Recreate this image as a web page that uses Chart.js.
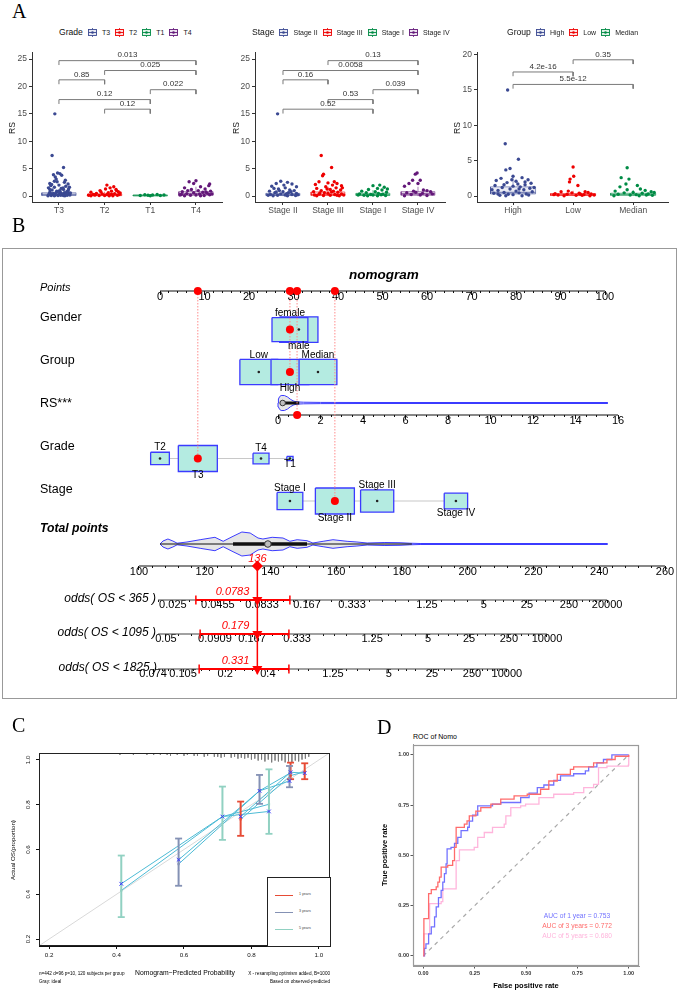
<!DOCTYPE html>
<html><head><meta charset="utf-8"><title>RS nomogram figure</title>
<script src="https://cdn.jsdelivr.net/npm/chart.js@4.4.1/dist/chart.umd.min.js"></script>
<style>
html,body{margin:0;padding:0;background:#fff;}
body{width:678px;height:992px;position:relative;overflow:hidden;font-family:'Liberation Sans',Arial,sans-serif;color:#000;}
canvas{position:absolute;}
.t{position:absolute;white-space:nowrap;line-height:1;}
.leg{position:absolute;display:flex;align-items:center;white-space:nowrap;line-height:1;color:#222;}
.leg .ttl{font-size:8.6px;color:#111;}
.leg .it{display:flex;align-items:center;margin-left:5px;font-size:7px;}
.leg svg{margin-right:5px;display:block;}
#nbox{position:absolute;left:2px;top:248px;width:673px;height:449px;border:1px solid #999;}
#calLeg{position:absolute;left:267px;top:877px;width:62px;height:68px;border:1px solid #222;background:#fff;}
</style></head><body>
<div id="nbox"></div>
<canvas id="a1" width="226" height="175" style="left:0;top:45px"></canvas>
<canvas id="a2" width="224" height="175" style="left:225px;top:45px"></canvas>
<canvas id="a3" width="222" height="175" style="left:450px;top:45px"></canvas>
<canvas id="nomo" width="678" height="452" style="left:0;top:248px"></canvas>
<canvas id="cal" width="340" height="247" style="left:0;top:745px"></canvas>
<div id="calLeg"></div>
<canvas id="roc" width="300" height="252" style="left:378px;top:740px"></canvas>
<script>
// ===================== DATA =====================
// ---- Panel A ----
const gradeCats = ['T3','T2','T1','T4'];
const stageCats = ['Stage II','Stage III','Stage I','Stage IV'];
const groupCats = ['High','Low','Median'];
const aaas = ['#3B4992','#EE0000','#008B45','#631879'];
const yTicks25 = [0,5,10,15,20,25];
const yTicks20 = [0,5,10,15,20];
// [lower whisker, Q1, median, Q3, upper whisker]
const gradeBox = [[0,0.1,0.3,0.6,1.3],[0,0.08,0.2,0.38,0.8],[0.02,0.05,0.1,0.2,0.35],[0,0.15,0.4,0.8,1.7]];
const stageBox = [[0,0.1,0.25,0.5,1.1],[0,0.12,0.3,0.75,1.7],[0,0.1,0.25,0.5,1.1],[0,0.15,0.4,0.8,1.7]];
const groupBox = [[0,0.3,0.5,1.3,2.8],[0,0.08,0.2,0.35,0.75],[0,0.1,0.22,0.4,0.85]];
// jittered observations: [jitter offset, RS]
const gradeT3 = [[-0.09,15],[-0.15,7.4],[0.1,5.2],[-0.03,4.2],[0.02,4.1],[-0.12,3.9],[-0.08,3.5],[0.06,3.8],[-0.2,2.3],[-0.1,2.7],[-0.04,2.6],[0.12,2.5],[0.2,2.2],[-0.18,1.9],[0,2.0],[0.15,1.8],[0.23,1.6],[-0.23,1.5],[-0.1,1.6],[0.05,1.4],[0.1,1.2],[-0.15,1.1],[0.2,1.0],[-0.05,0.9],[0.17,0.8],[-0.2,0.7],[0.03,0.7],[0.12,0.6],[-0.12,0.5],[0.22,0.4],[-0.22,0.35],[0,0.3],[0.08,0.25],[-0.08,0.2],[0.18,0.15],[-0.17,0.1],[0.13,0.05],[-0.02,0.1],[0.24,0.2],[-0.24,0.05],[0.06,0.45],[-0.14,0.3],[0.1,0.1],[-0.06,0.6],[0.2,0.7],[-0.2,1.2],[0.02,1.0],[0.16,0.3],[-0.1,0.05],[0.04,0.15],[-0.18,0.45],[0.25,0.55],[-0.02,0.85],[0.09,1.5],[-0.16,2.1],[0.14,2.9],[-0.06,3.1],[0.21,1.3]];
const gradeT2 = [[0.05,2.0],[0.2,1.7],[0.12,1.5],[0.02,1.3],[0.25,1.2],[-0.1,1.0],[0.15,0.9],[0.3,0.8],[-0.3,0.7],[0.08,0.6],[-0.18,0.5],[0.22,0.45],[-0.05,0.4],[0.32,0.3],[-0.25,0.3],[0.1,0.2],[-0.35,0.15],[0,0.1],[0.18,0.05],[-0.12,0.1],[0.28,0.15],[-0.3,0.05],[0.05,0.3],[-0.2,0.25],[0.15,0.35],[0.34,0.55],[-0.08,0.75],[0.26,1.0],[-0.22,0.2],[0.1,0.05]];
const gradeT1 = [[-0.12,0.25],[0.05,0.2],[0.15,0.3],[-0.22,0.1],[0,0.05],[0.22,0.1],[-0.05,0.15],[0.3,0.2]];
const gradeT4 = [[0,2.8],[-0.15,2.6],[-0.05,2.3],[0.3,2.2],[0.28,1.9],[0.1,1.7],[-0.25,1.5],[0.2,1.3],[-0.1,1.2],[0.05,1.0],[0.32,0.9],[-0.3,0.8],[0.15,0.7],[-0.05,0.6],[0.25,0.5],[-0.2,0.45],[0.08,0.4],[-0.32,0.3],[0.3,0.25],[0,0.2],[-0.12,0.15],[0.18,0.1],[-0.25,0.05],[0.1,0.05],[0.35,0.4],[-0.18,1.0],[0.22,0.75],[-0.35,0.2]];
const stageII = [[-0.12,15],[-0.05,2.7],[0.1,2.5],[-0.15,2.3],[0.2,2.2],[0.3,1.7],[-0.25,1.8],[0.05,1.5],[-0.1,1.3],[0.15,1.1],[0.25,1.0],[-0.3,0.9],[0,0.8],[-0.18,0.6],[0.12,0.6],[0.3,0.5],[-0.05,0.4],[-0.28,0.3],[0.2,0.3],[0.05,0.2],[-0.12,0.15],[0.28,0.1],[-0.22,0.05],[0.1,0.05],[0.02,2.0],[-0.2,1.4],[0.18,0.8],[-0.08,1.0],[0.33,0.25],[-0.33,0.15],[0.08,0.45],[-0.15,0.75]];
const stageIII = [[-0.15,7.4],[0.08,5.2],[-0.1,4.0],[-0.12,3.7],[-0.2,2.6],[0,2.4],[0.2,2.3],[-0.28,2.1],[0.1,2.0],[0.3,1.9],[-0.05,1.7],[0.18,1.5],[-0.25,1.4],[0.05,1.2],[0.28,1.1],[-0.15,1.0],[0.12,0.9],[-0.32,0.8],[0.22,0.7],[-0.08,0.6],[0,0.5],[0.3,0.4],[-0.2,0.35],[0.15,0.3],[-0.3,0.2],[0.05,0.15],[-0.1,0.1],[0.25,0.05],[-0.25,0.05],[0.35,0.2],[0.14,2.6],[-0.02,1.3],[0.32,1.5],[-0.18,0.55],[0.08,0.75],[0.2,0.15]];
const stageI = [[0,1.9],[0.15,2.0],[0.25,1.6],[0.1,1.4],[-0.1,1.2],[0.2,1.1],[-0.25,0.9],[0.05,0.8],[0.3,0.7],[-0.15,0.6],[0.12,0.5],[-0.3,0.4],[0.22,0.35],[-0.05,0.3],[0,0.2],[-0.2,0.15],[0.28,0.1],[0.1,0.05],[-0.12,0.05],[0.32,1.3],[-0.33,0.2],[0.18,0.25]];
const stageIV = [[-0.02,4.2],[-0.06,4.0],[-0.12,2.9],[0.05,2.9],[-0.2,2.3],[0,2.3],[-0.3,1.8],[0.2,1.0],[-0.1,0.9],[0.28,0.8],[-0.25,0.6],[0.1,0.5],[0.32,0.4],[-0.15,0.3],[0.05,0.2],[0.2,0.1],[-0.3,0.05],[0.12,1.1],[-0.05,0.7]];
const groupHigh = [[-0.09,15],[-0.13,7.4],[0.09,5.2],[-0.05,3.9],[-0.12,3.7],[0,2.8],[-0.2,2.5],[0.15,2.6],[0.25,2.3],[-0.28,2.2],[0.05,2.1],[-0.1,1.9],[0.3,1.8],[0.2,1.6],[-0.3,1.5],[0,1.4],[0.12,1.3],[-0.18,1.2],[0.28,1.1],[-0.05,1.0],[0.18,0.9],[-0.25,0.8],[0.05,0.7],[0.32,0.6],[-0.15,0.5],[0.1,0.45],[-0.32,0.4],[0.22,0.3],[-0.08,0.25],[0,0.2],[0.26,0.15],[-0.22,0.1],[0.15,0.05],[-0.12,0.05],[0.08,1.7],[-0.02,2.3],[0.35,1.2],[-0.35,0.9],[0.2,2.0],[-0.15,1.6],[0.1,1.0],[-0.25,0.3]];
const groupLow = [[0,4.1],[0.01,2.8],[-0.05,2.4],[-0.06,2.0],[0.08,1.5],[-0.2,0.6],[0.25,0.5],[0.1,0.4],[-0.3,0.35],[0.3,0.3],[-0.1,0.25],[0.18,0.2],[-0.25,0.15],[0.05,0.1],[-0.15,0.05],[0.28,0.05],[0.12,0.3],[-0.02,0.45],[0.2,0.6],[-0.32,0.2],[0.35,0.15],[-0.08,0.7],[0.15,0.1]];
const groupMed = [[-0.1,4.0],[-0.2,2.6],[-0.07,2.4],[-0.12,1.7],[0.07,1.5],[-0.22,1.3],[0.2,0.8],[-0.3,0.7],[0.3,0.6],[0,0.5],[-0.15,0.45],[0.15,0.4],[0.25,0.3],[-0.25,0.25],[0.05,0.2],[-0.05,0.15],[0.32,0.1],[-0.32,0.05],[0.1,0.05],[0.22,0.15],[-0.1,0.9],[0.12,1.0],[0.35,0.5]];
// pairwise comparisons: [group a, group b, bracket height, p value]
const gradeCmp = [[1,4,24.7,'0.013'],[2,4,22.9,'0.025'],[1,2,21.2,'0.85'],[3,4,19.4,'0.022'],[1,3,17.6,'0.12'],[2,3,15.85,'0.12']];
const stageCmp = [[2,4,24.7,'0.13'],[1,4,22.9,'0.0058'],[1,2,21.2,'0.16'],[3,4,19.4,'0.039'],[2,3,17.6,'0.53'],[1,3,15.85,'0.52']];
const groupCmp = [[2,3,19.26,'0.35'],[1,2,17.54,'4.2e-16'],[1,3,15.78,'5.5e-12']];

// ---- Panel B (nomogram) ----
const ptsTicks = [0,10,20,30,40,50,60,70,80,90,100];
const rsTicks = [0,2,4,6,8,10,12,14,16];
const totTicks = [100,120,140,160,180,200,220,240,260];
const genderLv = ['female','male'], genderPts = [29.2,31.2], genderSize = [0.92,0.98];
const groupLv = ['Low','High','Median'], groupPts = [22.2,29.2,35.5], groupSize = [0.97,0.97,0.97];
const gradeLv = ['T2','T3','T4','T1'], gradePts = [0,8.5,22.7,29.2], gradeSize = [0.48,1.0,0.41,0.16];
const stageLv = ['Stage I','Stage II','Stage III','Stage IV'], stagePts = [29.2,39.3,48.8,66.5], stageSize = [0.66,1.0,0.85,0.6];
const rsViolinX = [0,0.02,0.08,0.15,0.3,0.45,0.6,0.75,0.9,1.2,2,4,8,15.5];
const rsViolinW = [0,4,6.5,7.5,7.5,6,3.5,1.8,1.1,0.8,0.6,0.5,0.5,0.5];
const rsBox = [0.22,1.0], rsMedian = 0.22;
const totViolinX = [106.4,107.3,108.8,110.3,111.6,114.6,118.6,123.1,125.6,128.6,131.3,133.8,136.2,137.7,140.5,143.8,145.9,148.1,151.1,152.9,156.0,159.0,163.3,166.3,169.4,174.8,179.4,182.4,185.5,242.4];
const totViolinW = [0,3,5,3,0.8,2,4.3,6.7,2.7,7.7,12,11,6,5,6.7,6,2.7,4.3,3.3,1,2.7,4.3,2.7,2,1,1.5,1.3,0.8,0.5,0.5];
const totBox = [128.6,151.1], totWhisk = [106.4,183], totMedian = 139.2;
const patientPts = {gender:29.2, group:29.2, rs:0.9, rsPts:30.8, grade:8.5, stage:39.3};
const totalPoints = 136;
const oddsNames = ['odds( OS < 365 )','odds( OS < 1095 )','odds( OS < 1825 )'];
const odds365Lab = ['0.025','0.0455','0.0833','0.167','0.333','1.25','5','25','250','20000'];
const odds365Pos = [110.3,124.0,137.4,151.1,164.8,187.6,204.9,218.0,230.8,242.4];
const odds1095Lab = ['0.05','0.0909','0.167','0.333','1.25','5','25','250','10000'];
const odds1095Pos = [108.2,123.1,134.4,148.1,170.9,187.9,200.4,212.5,224.1];
const odds1825Lab = ['0.074','0.105','0.2','0.4','1.25','5','25','250','10000'];
const odds1825Pos = [104.3,113.4,126.2,139.2,159.0,176.0,189.1,201.3,211.9];
const odds365Minor = [106,115.5,119,121.5,127.5,131,133.5,141,144,147,155,158.5,161.5,170,174,178,182,192,196,200,208.5,211,214,221,223.5,226,233,235,237,239,240.5];
const odds1095Minor = [112,116,119,126.5,129.5,132,137,140.5,143.5,152,156,159.5,163,176,180,184,191,194,197,203,205.5,208,214.5,216.5,218.5,220,221.5];
const odds1825Minor = [107,109,110.5,116.5,119,121.5,129.5,132,134.5,142.5,145.5,148.5,151.5,163,166.5,170,179,181.5,184,191,193,195,203,204.5,206,207.5,209,210.5];
const oddsAxisStart = 105.8, oddsAxisEnd = [242.4,224.1,211.9];
const predOdds = ['0.0783','0.179','0.331'];
const predCI = [[117.3,145.9],[118.6,145.6],[118.3,145.6]];

// ---- Panel C (calibration) ----
const calTicks = [0.2,0.4,0.6,0.8,1.0];
const cal1Pred = [0.768,0.916,0.958], cal1Obs = [0.735,0.93,0.947], cal1Cor = [0.747,0.945,0.941], cal1Lo = [0.661,0.914,0.914], cal1Hi = [0.814,0.988,0.985];
const cal3Pred = [0.584,0.824,0.913], cal3Obs = [0.535,0.862,0.94], cal3Cor = [0.554,0.862,0.906], cal3Lo = [0.438,0.804,0.878], cal3Hi = [0.649,0.933,0.973];
const cal5Pred = [0.414,0.714,0.852], cal5Obs = [0.417,0.747,0.802], cal5Cor = [0.447,0.747,0.770], cal5Lo = [0.298,0.643,0.670], cal5Hi = [0.573,0.881,0.958];
const rugX = [0.21,0.25,0.29,0.31,0.34,0.37,0.39,0.41,0.43,0.45,0.47,0.49,0.51,0.53,0.55,0.56,0.58,0.6,0.61,0.63,0.64,0.66,0.67,0.69,0.7,0.71,0.72,0.74,0.75,0.76,0.77,0.78,0.79,0.8,0.81,0.82,0.83,0.84,0.85,0.86,0.87,0.88,0.89,0.9,0.91,0.92,0.93,0.94,0.95,0.96,0.97];
const rugN = [1,1,1,1,1,1,1,2,1,2,1,2,2,2,2,3,2,3,2,3,3,4,3,4,4,5,4,5,4,6,5,6,5,7,6,8,7,9,7,10,8,9,8,10,9,10,8,9,7,6,4];

// ---- Panel D (ROC) ----
const rocTicks = [0,0.25,0.5,0.75,1];
const rocTickLab = ['0.00','0.25','0.50','0.75','1.00'];
const roc1Fpr = [0,0.006,0.013,0.026,0.039,0.055,0.063,0.074,0.087,0.095,0.103,0.111,0.116,0.135,0.152,0.168,0.184,0.216,0.224,0.24,0.265,0.337,0.377,0.474,0.515,0.555,0.587,0.635,0.668,0.732,0.789,0.805,0.845,0.877,0.918,1.0];
const roc1Tpr = [0,0.038,0.06,0.11,0.145,0.194,0.244,0.29,0.326,0.367,0.409,0.458,0.532,0.54,0.56,0.59,0.623,0.64,0.67,0.70,0.746,0.755,0.763,0.787,0.81,0.837,0.85,0.873,0.895,0.906,0.92,0.94,0.96,0.977,1.0,1.0];
const roc3Fpr = [0,0.003,0.023,0.026,0.039,0.063,0.071,0.079,0.087,0.119,0.143,0.152,0.16,0.2,0.213,0.224,0.256,0.28,0.329,0.377,0.442,0.506,0.571,0.611,0.652,0.716,0.732,0.829,0.894,0.934,1.0];
const roc3Tpr = [0,0.186,0.186,0.31,0.33,0.343,0.367,0.392,0.442,0.45,0.474,0.54,0.639,0.656,0.672,0.697,0.72,0.738,0.755,0.78,0.796,0.804,0.829,0.87,0.903,0.928,0.94,0.96,0.977,0.993,1.0];
const roc5Fpr = [0,0.003,0.031,0.087,0.095,0.152,0.16,0.176,0.248,0.265,0.297,0.337,0.394,0.402,0.426,0.474,0.498,0.563,0.635,0.732,0.781,0.829,0.853,0.894,0.998,1.0];
const roc5Tpr = [0,0.11,0.26,0.27,0.334,0.334,0.474,0.527,0.54,0.59,0.614,0.639,0.656,0.697,0.738,0.746,0.755,0.787,0.804,0.812,0.837,0.853,0.936,0.944,0.949,1.0];
const aucLabels = ['AUC of 1 year = 0.753','AUC of 3 years = 0.772','AUC of 5 years = 0.680'];

// ===================== HELPERS =====================
const FF = "'Liberation Sans', Arial, sans-serif";
Chart.defaults.font.family = FF;
Chart.defaults.animation = false;
Chart.defaults.responsive = false;
Chart.defaults.events = [];
Chart.defaults.plugins.legend.display = false;
Chart.defaults.plugins.tooltip.enabled = false;

function rgba(hex,a){const n=parseInt(hex.slice(1),16);return `rgba(${n>>16&255},${n>>8&255},${n&255},${a})`;}
function ordered(list){const n=list.length;list.forEach((d,i)=>{d.order=n-i;});return list;}
function L(pts,color,width,xa,extra){return Object.assign({type:'line',xAxisID:xa||'x',yAxisID:'y',data:pts.map(p=>p?{x:p[0],y:p[1]}:{x:0,y:null}),borderColor:color,borderWidth:width,pointRadius:0,fill:false,tension:0,spanGaps:false},extra||{});}
function P(pts,opts,xa){return Object.assign({type:'line',showLine:false,xAxisID:xa||'x',yAxisID:'y',data:pts.map(p=>({x:p[0],y:p[1]})),pointRadius:3,pointBorderWidth:0},opts);}
function rectPts(x0,x1,y0,y1){return [[x0,y0],[x1,y0],[x1,y1],[x0,y1],[x0,y0]];}
function textPlugin(items){return {id:'txt',afterDatasetsDraw(chart){const c=chart.ctx;items.forEach(t=>{const xs=chart.scales[t.xa||'x'],ys=chart.scales[t.ya||'y'];const px=xs.getPixelForValue(t.x)+(t.dx||0),py=ys.getPixelForValue(t.y)+(t.dy||0);c.save();c.font=t.font;c.fillStyle=t.color||'#000';c.textAlign=t.align||'center';c.textBaseline=t.base||'middle';c.fillText(t.text,px,py);c.restore();});}};}
function framePlugin(color,w){return {id:'frame',afterDatasetsDraw(chart){const a=chart.chartArea,c=chart.ctx;c.save();c.strokeStyle=color;c.lineWidth=w;c.strokeRect(Math.round(a.left)+0.5,Math.round(a.top)+0.5,Math.round(a.right-a.left)-1,Math.round(a.bottom-a.top)-1);c.restore();}};}
function T(text,x,y,size,o){o=o||{};const d=document.createElement('div');d.className='t';d.textContent=text;d.style.fontSize=size+'px';
  if(o.weight)d.style.fontWeight=o.weight;if(o.style)d.style.fontStyle=o.style;if(o.color)d.style.color=o.color;if(o.family)d.style.fontFamily=o.family;
  if(o.rot){d.style.left=x+'px';d.style.top=y+'px';d.style.transform='translate(-50%,-50%) rotate(-90deg)';}
  else{d.style.top=(y-0.5*size)+'px';
    if(o.align==='right'){d.style.right=(678-x)+'px';}
    else if(o.align==='center'){d.style.left=x+'px';d.style.transform='translateX(-50%)';}
    else d.style.left=x+'px';}
  document.body.appendChild(d);return d;}
function icon(col){return `<svg width="9" height="9" viewBox="0 0 9 9"><line x1="4.5" y1="0" x2="4.5" y2="1.5" stroke="${col}" stroke-width="0.8"/><line x1="4.5" y1="7.5" x2="4.5" y2="9" stroke="${col}" stroke-width="0.8"/><rect x="0.5" y="1.5" width="8" height="6" fill="${rgba(col,0.12)}" stroke="${col}" stroke-width="0.9"/><line x1="0.5" y1="4.5" x2="8.5" y2="4.5" stroke="${col}" stroke-width="0.9"/><circle cx="4.5" cy="4.5" r="1.3" fill="${col}"/></svg>`;}
function legend(x,y,title,cats){const d=document.createElement('div');d.className='leg';d.style.left=x+'px';d.style.top=(y-5)+'px';d.style.height='10px';
  d.innerHTML=`<span class="ttl">${title}</span>`+cats.map((c,i)=>`<span class="it">${icon(aaas[i])}<span>${c}</span></span>`).join('');document.body.appendChild(d);}

// ===================== PANEL A =====================
function panelA(id,cats,box,pts,cmp,xr,yr,yTicks,drop,yW){
  const ds=[];const W=0.375;
  cats.forEach((c,i)=>{const X=i+1,col=aaas[i],b=box[i];
    ds.push(L([[X,b[0]],[X,b[1]]],rgba(col,0.55),1));
    ds.push(L([[X,b[3]],[X,b[4]]],rgba(col,0.55),1));
    ds.push(L(rectPts(X-W,X+W,b[1],b[3]),rgba(col,0.55),1,'x',{fill:'shape',backgroundColor:rgba(col,0.1)}));
    ds.push(L([[X-W,b[2]],[X+W,b[2]]],rgba(col,0.6),1.6));
  });
  pts.forEach((arr,i)=>{ds.push(P(arr.map(p=>[i+1+p[0],p[1]]),{pointRadius:1.7,pointBackgroundColor:aaas[i]}));});
  cmp.forEach(c=>{ds.push(L([[c[0],c[2]-drop],[c[0],c[2]],[c[1],c[2]],[c[1],c[2]-drop]],'#7a7a7a',1));});
  const labels=cmp.map(c=>({x:(c[0]+c[1])/2,y:c[2],dy:-1.5,base:'bottom',text:c[3],font:`8px ${FF}`,color:'#333'}));
  new Chart(document.getElementById(id),{type:'line',data:{datasets:ordered(ds)},
    options:{layout:{padding:{top:5,right:4,left:0,bottom:0}},
      scales:{
        x:{type:'linear',min:xr[0],max:xr[1],afterFit(s){s.height=18;},afterBuildTicks(s){s.ticks=cats.map((c,i)=>({value:i+1}));},
          ticks:{autoSkip:false,maxRotation:0,minRotation:0,callback:(v,i)=>cats[i],color:'#4d4d4d',font:{size:8.5},padding:1},
          grid:{drawOnChartArea:false,tickLength:3,color:'#333'},border:{color:'#333',width:1}},
        y:{type:'linear',min:yr[0],max:yr[1],afterFit(s){s.width=yW;},afterBuildTicks(s){s.ticks=yTicks.map(v=>({value:v}));},
          ticks:{color:'#4d4d4d',font:{size:8.5},padding:2},grid:{drawOnChartArea:false,tickLength:3,color:'#333'},border:{color:'#333',width:1}}
      }},
    plugins:[textPlugin(labels)]});
}
panelA('a1',gradeCats,gradeBox,[gradeT3,gradeT2,gradeT1,gradeT4],gradeCmp,[0.41,4.57],[-1.08,26.26],yTicks25,0.8,32);
panelA('a2',stageCats,stageBox,[stageII,stageIII,stageI,stageIV],stageCmp,[0.378,4.6],[-1.08,26.26],yTicks25,0.8,30);
panelA('a3',groupCats,groupBox,[groupHigh,groupLow,groupMed],groupCmp,[0.4,3.58],[-0.84,20.35],yTicks20,0.6,27);
legend(59,32,'Grade',gradeCats);
legend(252,32,'Stage',stageCats);
legend(507,32,'Group',groupCats);
T('RS',12,128,8.6,{rot:1,color:'#111'});T('RS',236,128,8.6,{rot:1,color:'#111'});T('RS',457,128,8.6,{rot:1,color:'#111'});

// ===================== PANEL B =====================
(function(){
  const NW=678,NH=452;
  const PXPT=445/100, ROWPX=43, ROW0=39; // layout constants (px per point, px per row, first row offset)
  // pixel anchors of each nomogram axis (layout)
  const anchors={pts:[0,160,100,605],rs:[0,278,16,618],tot:[100,139,260,665]};
  function span(a,l,r){const k=(a[2]-a[0])/(a[3]-a[1]);return {min:a[0]+(l-a[1])*k,max:a[0]+(r-a[1])*k};}
  const ptsSpan=span(anchors.pts,0,NW), rsSpan=span(anchors.rs,0,NW), totSpan=span(anchors.tot,0,NW);
  const R={pts:0.093,gender:0.99,group:1.977,rsV:2.698,rsA:2.977,grade:3.988,stage:4.977,totV:5.977,totA:6.488,odds:[7.279,8.070,8.884]};
  const BLUE='#3b3bff', TEAL='#b4ebe1', RED='#ff0000';
  function dynAxis(sp,r,ticks,labels,tl,show){return {type:'linear',axis:'x',position:{y:r},min:sp.min,max:sp.max,
    afterFit(s){s.height=0;s.paddingLeft=0;s.paddingRight=0;s.paddingTop=0;s.paddingBottom=0;},afterBuildTicks(s){s.ticks=ticks.map(v=>({value:v}));},
    grid:{display:true,drawOnChartArea:false,drawTicks:true,tickLength:tl,color:'#111',lineWidth:1},border:{display:false},
    ticks:{display:show,autoSkip:false,maxRotation:0,minRotation:0,padding:-5,color:'#000',font:{size:11},callback:(v,i)=>labels?labels[i]:''}};}
  function minorOf(major,step,lo,hi){const out=[];for(let v=lo;v<=hi+1e-9;v+=step){if(!major.some(m=>Math.abs(m-v)<1e-6))out.push(+v.toFixed(3));}return out;}
  const scales={
    x:{type:'linear',display:false,min:totSpan.min,max:totSpan.max},
    y:{type:'linear',display:false,reverse:true,min:-ROW0/ROWPX,max:(NH-ROW0)/ROWPX},
    pts:dynAxis(ptsSpan,R.pts,ptsTicks,ptsTicks.map(String),4,true),
    ptsMin:dynAxis(ptsSpan,R.pts,minorOf(ptsTicks,2,0,100),null,2,false),
    rs:dynAxis(rsSpan,R.rsA,rsTicks,rsTicks.map(String),4,true),
    rsMin:dynAxis(rsSpan,R.rsA,minorOf(rsTicks,0.5,0,16),null,2,false),
    tot:dynAxis(totSpan,R.totA,totTicks,totTicks.map(String),4,true),
    totMin:dynAxis(totSpan,R.totA,minorOf(totTicks,4,100,260),null,2,false),
    o1:dynAxis(totSpan,R.odds[0],odds365Pos,odds365Lab,3,true),
    o1m:dynAxis(totSpan,R.odds[0],odds365Minor,null,2,false),
    o2:dynAxis(totSpan,R.odds[1],odds1095Pos,odds1095Lab,3,true),
    o2m:dynAxis(totSpan,R.odds[1],odds1095Minor,null,2,false),
    o3:dynAxis(totSpan,R.odds[2],odds1825Pos,odds1825Lab,3,true),
    o3m:dynAxis(totSpan,R.odds[2],odds1825Minor,null,2,false)
  };
  const groupsOfAxes={pts:['pts','ptsMin'],rs:['rs','rsMin'],tot:['x','tot','totMin','o1','o1m','o2','o2m','o3','o3m']};
  const ds=[];
  ds.push(L([[0,R.pts],[100,R.pts]],'#111',1.2,'pts'));
  ds.push(L([[0,R.rsA],[16,R.rsA]],'#111',1.2,'rs'));
  ds.push(L([[100,R.totA],[260,R.totA]],'#111',1.2,'x'));
  oddsAxisEnd.forEach((e,i)=>ds.push(L([[oddsAxisStart,R.odds[i]],[e,R.odds[i]]],'#444',1.2,'x')));
  ds.push(L([[Math.min(...gradePts),R.grade],[Math.max(...gradePts),R.grade]],'#c8c8c8',1.2,'pts'));
  ds.push(L([[Math.min(...stagePts),R.stage],[Math.max(...stagePts),R.stage]],'#c8c8c8',1.2,'pts'));
  function box(cx,s,r){const hw=19.5*s/PXPT,hh=13*s/ROWPX;return L(rectPts(cx-hw,cx+hw,r-hh,r+hh),BLUE,1.3,'pts',{fill:'shape',backgroundColor:TEAL});}
  [[genderPts,genderSize,R.gender,[1,0]],[groupPts,groupSize,R.group,[0,1,2]],[gradePts,gradeSize,R.grade,[0,1,2,3]],[stagePts,stageSize,R.stage,[0,1,2,3]]].forEach(([p,s,r,ord])=>{ord.forEach(i=>ds.push(box(p[i],s[i],r)));});
  function violin(xs,ws,r,xa){const up=xs.map((x,i)=>[x,r-ws[i]/ROWPX]);const lo=xs.map((x,i)=>[x,r+ws[i]/ROWPX]).reverse();return L(up.concat(lo,[up[0]]),BLUE,1,xa,{fill:'shape',backgroundColor:'#e6e6e6'});}
  ds.push(violin(rsViolinX,rsViolinW,R.rsV,'rs'));
  ds.push(L([[rsBox[0],R.rsV],[rsBox[1],R.rsV]],'#111',3,'rs'));
  ds.push(P([[rsMedian,R.rsV]],{pointRadius:2.8,pointBackgroundColor:'#bdbdbd',pointBorderColor:'#333',pointBorderWidth:1},'rs'));
  ds.push(violin(totViolinX,totViolinW,R.totV,'x'));
  ds.push(L([[totWhisk[0],R.totV],[totWhisk[1],R.totV]],'#111',1.2,'x'));
  ds.push(L([[totBox[0],R.totV],[totBox[1],R.totV]],'#111',3.5,'x'));
  ds.push(P([[totMedian,R.totV]],{pointRadius:3.3,pointBackgroundColor:'#bdbdbd',pointBorderColor:'#333',pointBorderWidth:1},'x'));
  const cdots=[];[[genderPts,R.gender],[groupPts,R.group],[gradePts,R.grade],[stagePts,R.stage]].forEach(([p,r])=>p.forEach(x=>cdots.push([x,r])));
  ds.push(P(cdots,{pointRadius:1.3,pointBackgroundColor:'#222'},'pts'));
  const dot={borderDash:[1.5,1.5]};
  ds.push(L([[patientPts.grade,R.pts],[patientPts.grade,R.grade]],'#ff8c8c',1,'pts',dot));
  ds.push(L([[patientPts.gender,R.pts],[patientPts.group,R.group]],'#ff8c8c',1,'pts',dot));
  ds.push(L([[patientPts.rsPts,R.pts],[patientPts.rsPts,R.rsA]],'#ff8c8c',1,'pts',dot));
  ds.push(L([[patientPts.stage,R.pts],[patientPts.stage,R.stage]],'#ff8c8c',1,'pts',dot));
  const rd={pointRadius:4,pointBackgroundColor:RED};
  ds.push(P([[patientPts.grade,R.pts],[patientPts.gender,R.pts],[patientPts.rsPts,R.pts],[patientPts.stage,R.pts],[patientPts.gender,R.gender],[patientPts.group,R.group],[patientPts.grade,R.grade],[patientPts.stage,R.stage]],rd,'pts'));
  ds.push(P([[patientPts.rs,R.rsA]],rd,'rs'));
  ds.push(L([[totalPoints,R.totA],[totalPoints,R.odds[2]+0.12]],RED,1.5,'x'));
  predCI.forEach((ci,i)=>{ds.push(L([[ci[0],R.odds[i]],[ci[1],R.odds[i]]],RED,1.8,'x'));
    ds.push(P([[ci[0],R.odds[i]],[ci[1],R.odds[i]]],{pointStyle:'line',rotation:90,pointRadius:4.5,pointBorderColor:RED,pointBorderWidth:1.5},'x'));
    ds.push(P([[totalPoints,R.odds[i]]],{pointStyle:'triangle',rotation:180,pointRadius:5.8,pointBackgroundColor:RED},'x'));});
  ds.push(P([[totalPoints,R.totA]],{pointStyle:'rectRot',pointRadius:5.5,pointBackgroundColor:RED},'x'));
  const items=[];
  function catLabels(lv,p,s,r){const idx=lv.map((_,i)=>i).sort((a,b)=>p[a]-p[b]);idx.forEach((i,k)=>{const hh=13*s[i];const above=k%2===0;
    items.push({xa:'pts',x:p[i],y:r,dy:above?-(hh+4.5):(hh+4),text:lv[i],font:`10px ${FF}`,color:'#000'});});}
  catLabels(genderLv,genderPts,genderSize,R.gender);catLabels(groupLv,groupPts,groupSize,R.group);
  catLabels(gradeLv,gradePts,gradeSize,R.grade);catLabels(stageLv,stagePts,stageSize,R.stage);
  items.push({xa:'x',x:totalPoints,y:R.totA,dy:-7,text:String(totalPoints),font:`italic 11px ${FF}`,color:RED});
  predOdds.forEach((t,i)=>items.push({xa:'x',x:totalPoints,y:R.odds[i],dx:-8,dy:-8,align:'right',text:t,font:`italic 11px ${FF}`,color:RED}));
  const ch=new Chart(document.getElementById('nomo'),{type:'line',data:{datasets:ordered(ds)},
    options:{layout:{padding:0},scales},plugins:[textPlugin(items)]});
  // re-anchor every axis to the real chart area so the layout matches the figure
  for(let pass=0;pass<2;pass++){
    const a=ch.chartArea, sc=ch.options.scales;
    Object.keys(groupsOfAxes).forEach(g=>{const sp=span(anchors[g],a.left,a.right);groupsOfAxes[g].forEach(id=>{sc[id].min=sp.min;sc[id].max=sp.max;});});
    sc.y.min=(a.top-ROW0)/ROWPX; sc.y.max=(a.bottom-ROW0)/ROWPX;
    ch.update();
  }
})();
T('nomogram',349,275,13.5,{weight:'bold',style:'italic'});
T('Points',40,287,11,{style:'italic'});
T('Gender',40,317,12.5);T('Group',40,360,12.5);T('RS***',40,403,12.5);T('Grade',40,446,12.5);T('Stage',40,489,12.5);
T('Total points',40,528,12.2,{weight:'bold',style:'italic'});
T(oddsNames[0],156,598,12,{style:'italic',align:'right'});
T(oddsNames[1],156,632,12,{style:'italic',align:'right'});
T(oddsNames[2],157,667,12,{style:'italic',align:'right'});

// ===================== PANEL C =====================
(function(){
  const C1='#E64B35',C3='#8491B4',C5='#91D1C2',LINE='#4DBBD5';
  const ds=[];
  ds.push(L([[0,0],[1.2,1.2]],'#d9d9d9',1));
  const rug=[];rugX.forEach((x,i)=>{rug.push([x,1.031],[x,1.031-rugN[i]*0.0042],null);});
  ds.push(L(rug,'#777',0.8));
  [[cal5Pred,cal5Obs],[cal5Pred,cal5Cor],[cal3Pred,cal3Obs],[cal3Pred,cal3Cor],[cal1Pred,cal1Obs],[cal1Pred,cal1Cor]].forEach(([p,o])=>ds.push(L(p.map((x,i)=>[x,o[i]]),LINE,1)));
  [[cal1Pred,cal1Lo,cal1Hi,C1],[cal3Pred,cal3Lo,cal3Hi,C3],[cal5Pred,cal5Lo,cal5Hi,C5]].forEach(([p,lo,hi,col])=>{
    const seg=[];p.forEach((x,i)=>{seg.push([x,lo[i]],[x,hi[i]],null);});
    ds.push(L(seg,col,2));
    const caps=[];p.forEach((x,i)=>{caps.push([x,lo[i]],[x,hi[i]]);});
    ds.push(P(caps,{pointStyle:'line',pointRadius:3.5,pointBorderColor:col,pointBorderWidth:1.8}));
  });
  [[cal1Pred,cal1Obs,C1],[cal3Pred,cal3Obs,C3],[cal5Pred,cal5Obs,C5]].forEach(([p,o,col])=>ds.push(P(p.map((x,i)=>[x,o[i]]),{pointStyle:'rect',pointRadius:1.6,pointBackgroundColor:col})));
  [[cal1Pred,cal1Cor],[cal3Pred,cal3Cor],[cal5Pred,cal5Cor]].forEach(([p,o])=>ds.push(P(p.map((x,i)=>[x,o[i]]),{pointStyle:'crossRot',pointRadius:2.6,pointBorderColor:'#3a3aff',pointBorderWidth:1})));
  new Chart(document.getElementById('cal'),{type:'line',data:{datasets:ordered(ds)},
    options:{layout:{padding:{top:8,right:10,left:0,bottom:0}},
      scales:{
        x:{type:'linear',min:0.17,max:1.033,afterFit(s){s.height=46;},afterBuildTicks(s){s.ticks=calTicks.map(v=>({value:v}));},
          ticks:{autoSkip:false,maxRotation:0,font:{size:6.2},color:'#111',padding:3,callback:v=>v.toFixed(1)},
          grid:{drawOnChartArea:false,tickLength:3,color:'#111'},border:{color:'#111'}},
        y:{type:'linear',min:0.169,max:1.031,afterFit(s){s.width=39;},afterBuildTicks(s){s.ticks=calTicks.map(v=>({value:v}));},
          ticks:{font:{size:6.2},color:'#111',padding:3,minRotation:90,maxRotation:90,crossAlign:'center',callback:v=>v.toFixed(1)},
          grid:{drawOnChartArea:false,tickLength:3,color:'#111'},border:{color:'#111'}}
      }},
    plugins:[framePlugin('#222',1)]});
  const lg=document.getElementById('calLeg');
  [['1 years',C1,17],['3 years',C3,34],['5 years',C5,51]].forEach(([t,c,y])=>{
    const ln=document.createElement('div');ln.style.cssText=`position:absolute;left:7px;top:${y}px;width:18px;height:0;border-top:1.5px solid ${c};`;lg.appendChild(ln);
    const tx=document.createElement('div');tx.className='t';tx.style.cssText=`left:31px;top:${y-2}px;font-size:3.6px;color:#444;`;tx.textContent=t;lg.appendChild(tx);});
})();
T('Actual OS(proportion)',13,850,6.2,{rot:1});
T('Nomogram\u2212Predicted Probability',185,973,6.8,{align:'center'});
T('n=442 d=96 p=10, 120 subjects per group',39,974,4.6);
T('Gray: ideal',39,982,4.6);
T('X - resampling optimism added, B=1000',330,974,4.6,{align:'right'});
T('Based on observed-predicted',330,982,4.6,{align:'right'});

// ===================== PANEL D =====================
(function(){
  const CB='#7272ff',CR='#ff6b6b',CP='#ffb5dc';
  const ds=[];
  ds.push(L([[0,0],[1,1]],'#aaaaaa',1.2,'x',{borderDash:[4,4]}));
  ds.push(L(roc5Fpr.map((x,i)=>[x,roc5Tpr[i]]),CP,1.3,'x',{stepped:true}));
  ds.push(L(roc1Fpr.map((x,i)=>[x,roc1Tpr[i]]),CB,1.3,'x',{stepped:true}));
  ds.push(L(roc3Fpr.map((x,i)=>[x,roc3Tpr[i]]),CR,1.3,'x',{stepped:true}));
  const ax=()=>({type:'linear',min:-0.05,max:1.05,afterBuildTicks(s){s.ticks=rocTicks.map(v=>({value:v}));},
    ticks:{autoSkip:false,maxRotation:0,font:{size:5.5,weight:'bold'},color:'#333',padding:1.5,callback:(v,i)=>rocTickLab[i]},
    grid:{drawOnChartArea:false,tickLength:2.5,color:'#555'},border:{color:'#999',width:1}});
  const sx=ax(),sy=ax();sx.afterFit=s=>{s.height=26;};sy.afterFit=s=>{s.width=35;};
  new Chart(document.getElementById('roc'),{type:'line',data:{datasets:ordered(ds)},
    options:{layout:{padding:{top:4,right:39,left:0,bottom:0}},scales:{x:sx,y:sy}},
    plugins:[framePlugin('#9a9a9a',1.2)]});
  T(aucLabels[0],577,916,6.7,{align:'center',color:CB});
  T(aucLabels[1],577,926,6.7,{align:'center',color:CR});
  T(aucLabels[2],577,936,6.7,{align:'center',color:CP});
})();
T('ROC of Nomo',413,736,7);
T('True positive rate',385,855,7.5,{rot:1,weight:'bold'});
T('False positive rate',526,986,7.5,{align:'center',weight:'bold'});

const SERIF="'Liberation Serif','DejaVu Serif',serif";
T('A',12,11,20,{family:SERIF});T('B',12,225,20,{family:SERIF});T('C',12,725,20,{family:SERIF});T('D',377,727,20,{family:SERIF});
</script>
</body></html>
